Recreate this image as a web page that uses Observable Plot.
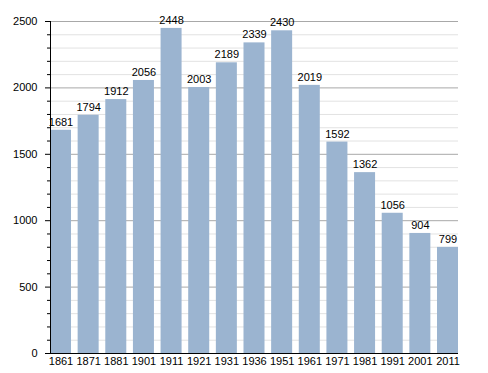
<!DOCTYPE html>
<html>
<head>
<meta charset="utf-8">
<script src="https://cdn.jsdelivr.net/npm/d3@7"></script>
<script src="https://cdn.jsdelivr.net/npm/@observablehq/plot@0.6"></script>
<style>
  html, body { margin: 0; padding: 0; background: #fff; }
</style>
</head>
<body>
<div id="chart"></div>
<script>
const years = ["1861","1871","1881","1901","1911","1921","1931","1936","1951","1961","1971","1981","1991","2001","2011"];
const population = [1681,1794,1912,2056,2448,2003,2189,2339,2430,2019,1592,1362,1056,904,799];
const majorTicks = [0,500,1000,1500,2000,2500];
const minorTicks = [100,200,300,400,600,700,800,900,1100,1200,1300,1400,1600,1700,1800,1900,2100,2200,2300,2400];

const data = years.map((y, i) => ({year: y, pop: population[i]}));

const chart = Plot.plot({
  width: 488,
  height: 373,
  marginLeft: 50,
  marginRight: 30,
  marginTop: 21,
  marginBottom: 20,
  style: {fontFamily: "Liberation Sans, Arial, sans-serif", fontSize: "11px", color: "#000", background: "#fff"},
  x: {type: "band", domain: years, paddingInner: 0.24, paddingOuter: 0, align: 0.5, round: false},
  y: {domain: [0, 2500]},
  marks: [
    Plot.gridY(minorTicks, {stroke: "#e2e2e2", strokeOpacity: 1}),
    Plot.gridY(majorTicks.filter(d => d > 0), {stroke: "#a8a8a8", strokeOpacity: 1}),
    Plot.barY(data, {x: "year", y: "pop", fill: "#9bb4d0"}),
    Plot.text(data, {x: "year", y: "pop", text: d => String(d.pop), dy: -8, fill: "#000", fontSize: 11}),
    Plot.axisY(minorTicks, {tickSize: 3, text: null, label: null, stroke: "#000"}),
    Plot.axisY(majorTicks, {tickSize: 5, tickPadding: 8, tickFormat: d => String(d), label: null, stroke: "#000", fontSize: 11}),
    Plot.axisX({tickSize: 0, tickPadding: 4, label: null, fontSize: 11}),
    Plot.frame({anchor: "left", stroke: "#000"}),
    Plot.ruleY([0], {stroke: "#000"})
  ]
});
document.getElementById("chart").appendChild(chart);
</script>
</body>
</html>
